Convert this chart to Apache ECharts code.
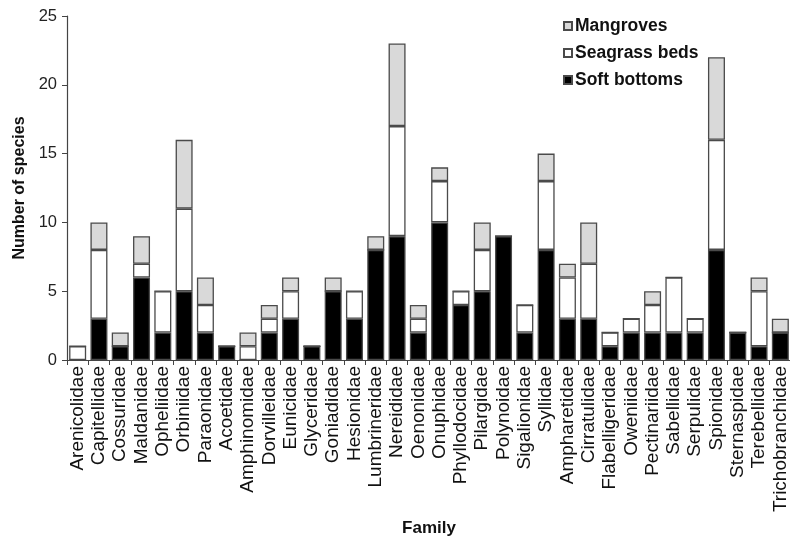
<!DOCTYPE html>
<html>
<head>
<meta charset="utf-8">
<script src="https://cdn.jsdelivr.net/npm/echarts@6/dist/echarts.min.js"></script>
<style>html,body{margin:0;padding:0;background:#fff;}#c{width:790px;height:536px;}</style>
</head>
<body>
<div id="c"></div>
<script>
const families = ['Arenicolidae','Capitellidae','Cossuridae','Maldanidae','Opheliidae','Orbiniidae','Paraonidae','Acoetidae','Amphinomidae','Dorvilleidae','Eunicidae','Glyceridae','Goniadidae','Hesionidae','Lumbrineridae','Nereididae','Oenonidae','Onuphidae','Phyllodocidae','Pilargidae','Polynoidae','Sigalionidae','Syllidae','Ampharetidae','Cirratulidae','Flabelligeridae','Oweniidae','Pectinariidae','Sabellidae','Serpulidae','Spionidae','Sternaspidae','Terebellidae','Trichobranchidae'];
const softBottoms = [0,3,1,6,2,5,2,1,0,2,3,1,5,3,8,9,2,10,4,5,9,2,8,3,3,1,2,2,2,2,8,2,1,2];
const seagrassBeds = [1,5,0,1,3,6,2,0,1,1,2,0,0,2,0,8,1,3,1,3,0,2,5,3,4,1,1,2,4,1,8,0,4,0];
const mangroves = [0,2,1,2,0,5,2,0,1,1,1,0,1,0,1,6,1,1,0,2,0,0,2,1,3,0,0,1,0,0,6,0,1,1];
const yTicks = [0,5,10,15,20,25];

const chart = echarts.init(document.getElementById('c'));
const border = {borderColor:'#4a4a4a', borderWidth:1.3};
chart.setOption({
  animation:false,
  textStyle:{fontFamily:'Liberation Sans, Arial, sans-serif'},
  grid:{left:67, top:16, bottom:176, width:724, containLabel:false, outerBoundsMode:'none'},
  legend:{
    orient:'vertical', left:558, top:12, itemGap:9,
    data:['Mangroves','Seagrass beds','Soft bottoms'],
    icon:'rect', itemWidth:8, itemHeight:8,
    textStyle:{fontSize:17.5, fontWeight:'bold', color:'#111', padding:[0,0,0,-2]}
  },
  xAxis:{
    type:'category', data:families,
    name:'Family', nameLocation:'middle', nameGap:151,
    nameTextStyle:{fontSize:17, fontWeight:'bold', color:'#111'},
    axisLine:{lineStyle:{color:'#444', width:1.2}},
    axisTick:{show:true, alignWithLabel:false, length:5, lineStyle:{color:'#444'}},
    axisLabel:{rotate:90, fontSize:19, color:'#111', margin:6, interval:0}
  },
  yAxis:{
    type:'value', min:yTicks[0], max:yTicks[yTicks.length-1], interval:5,
    name:'Number of species', nameLocation:'middle', nameGap:39,
    nameTextStyle:{fontSize:16, fontWeight:'bold', color:'#111'},
    splitLine:{show:false},
    axisLine:{show:true, lineStyle:{color:'#444', width:1.2}},
    axisTick:{show:true, length:5, lineStyle:{color:'#444'}},
    axisLabel:{fontSize:16.5, color:'#222', margin:10}
  },
  series:[
    {name:'Soft bottoms', type:'bar', stack:'s', barWidth:17, data:softBottoms, itemStyle:Object.assign({color:'#000'}, border)},
    {name:'Seagrass beds', type:'bar', stack:'s', barWidth:17, data:seagrassBeds, itemStyle:Object.assign({color:'#fff'}, border)},
    {name:'Mangroves', type:'bar', stack:'s', barWidth:17, data:mangroves, itemStyle:Object.assign({color:'#d9d9d9'}, border)}
  ]
});
</script>
</body>
</html>
